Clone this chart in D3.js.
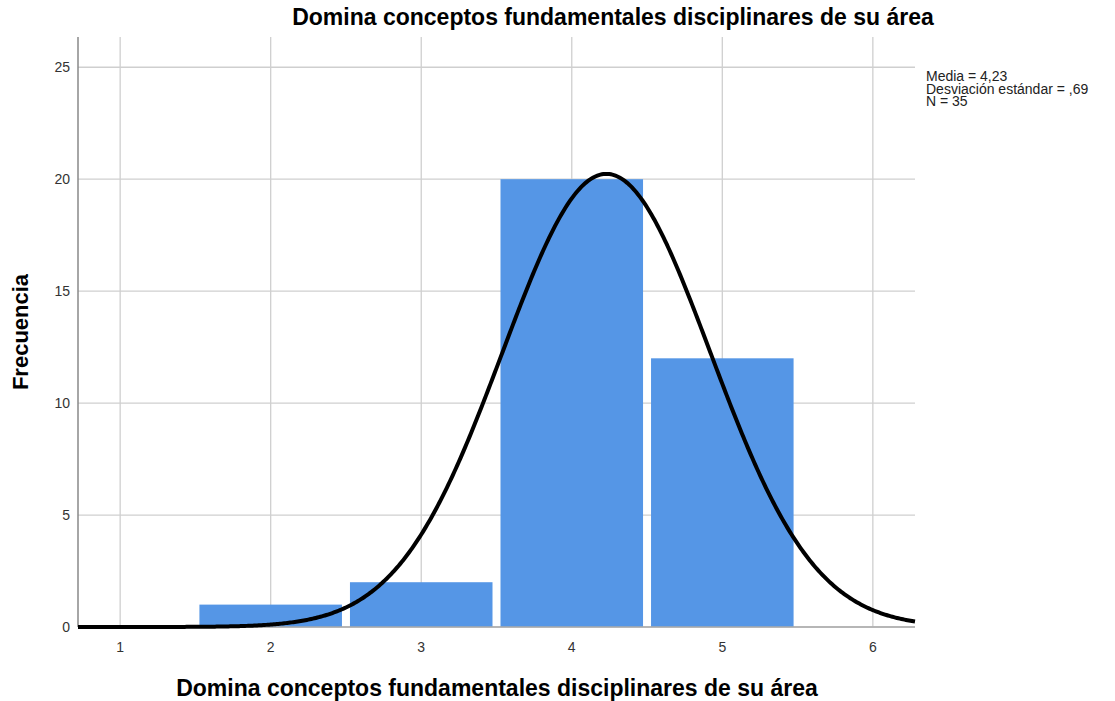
<!DOCTYPE html>
<html>
<head>
<meta charset="utf-8">
<script src="https://cdn.jsdelivr.net/npm/d3@7"></script>
<style>
  body { margin: 0; background: #fff; }
  text { font-family: "Liberation Sans", Arial, sans-serif; }
</style>
</head>
<body>
<svg id="chart" width="1115" height="701"></svg>
<script>
// histogram data
var binCenters = [2, 3, 4, 5];
var frequencies = [1, 2, 20, 12];
var xTicks = [1, 2, 3, 4, 5, 6];
var yTicks = [0, 5, 10, 15, 20, 25];
var stats = { mean: 4.23, sd: 0.69, n: 35 };
var statLines = ["Media = 4,23", "Desviación estándar = ,69", "N = 35"];

function drawChart() {
  var svg = d3.select("#chart");
  var pLeft = 78, pRight = 915, pTop = 37, pBottom = 627;

  var x = d3.scaleLinear().domain([0.72, 6.28]).range([pLeft, pRight]);
  var y = d3.scaleLinear().domain([0, 26.35]).range([pBottom, pTop]);

  // grid lines
  svg.selectAll(".vgrid").data(xTicks).enter().append("line")
    .attr("x1", function(d){ return x(d); }).attr("x2", function(d){ return x(d); })
    .attr("y1", pTop).attr("y2", pBottom)
    .style("stroke", "#cfcfcf").style("stroke-width", 1.3);
  svg.selectAll(".hgrid").data(yTicks).enter().append("line")
    .attr("x1", pLeft).attr("x2", pRight)
    .attr("y1", function(d){ return y(d); }).attr("y2", function(d){ return y(d); })
    .style("stroke", "#cfcfcf").style("stroke-width", 1.3);

  // bars
  var gap = 4;
  svg.selectAll(".bar").data(binCenters).enter().append("rect")
    .attr("x", function(d){ return x(d - 0.5) + gap; })
    .attr("width", function(d){ return x(d + 0.5) - x(d - 0.5) - 2 * gap; })
    .attr("y", function(d, i){ return y(frequencies[i]); })
    .attr("height", function(d, i){ return y(0) - y(frequencies[i]); })
    .style("fill", "#5596e6");

  // axis lines
  svg.append("line").attr("x1", pLeft).attr("x2", pLeft).attr("y1", pTop).attr("y2", pBottom)
    .style("stroke", "#888").style("stroke-width", 1.5);
  svg.append("line").attr("x1", pLeft).attr("x2", pRight).attr("y1", pBottom).attr("y2", pBottom)
    .style("stroke", "#aaa").style("stroke-width", 1.5);

  // normal curve from the chart's mean / sd / N
  var curvePts = d3.range(0.72, 6.281, 0.01).map(function(v){
    var z = (v - stats.mean) / stats.sd;
    return [v, stats.n / (stats.sd * Math.sqrt(2 * Math.PI)) * Math.exp(-0.5 * z * z)];
  });
  svg.append("path").datum(curvePts)
    .attr("d", d3.line().x(function(d){ return x(d[0]); }).y(function(d){ return y(d[1]); }))
    .style("fill", "none").style("stroke", "#000").style("stroke-width", 4);

  // tick labels
  svg.selectAll(".xl").data(xTicks).enter().append("text")
    .attr("x", function(d){ return x(d); }).attr("y", 652)
    .attr("text-anchor", "middle").style("font-size", "14px").style("fill", "#333")
    .text(function(d){ return d; });
  svg.selectAll(".yl").data(yTicks).enter().append("text")
    .attr("x", 70).attr("y", function(d){ return y(d) + 5; })
    .attr("text-anchor", "end").style("font-size", "14px").style("fill", "#333")
    .text(function(d){ return d; });

  // titles
  svg.append("text").attr("x", 613).attr("y", 25).attr("text-anchor", "middle")
    .style("font-size", "23px").style("font-weight", "bold")
    .text("Domina conceptos fundamentales disciplinares de su área");
  svg.append("text").attr("x", 497).attr("y", 696).attr("text-anchor", "middle")
    .style("font-size", "23px").style("font-weight", "bold")
    .text("Domina conceptos fundamentales disciplinares de su área");
  svg.append("text").attr("transform", "translate(28,332) rotate(-90)").attr("text-anchor", "middle")
    .style("font-size", "22px").style("font-weight", "bold")
    .text("Frecuencia");

  // stats box
  svg.selectAll(".st").data(statLines).enter().append("text")
    .attr("x", 926).attr("y", function(d, i){ return 81 + i * 12.5; })
    .style("font-size", "14px").style("fill", "#222")
    .text(function(d){ return d; });
}

drawChart();
</script>
</body>
</html>
